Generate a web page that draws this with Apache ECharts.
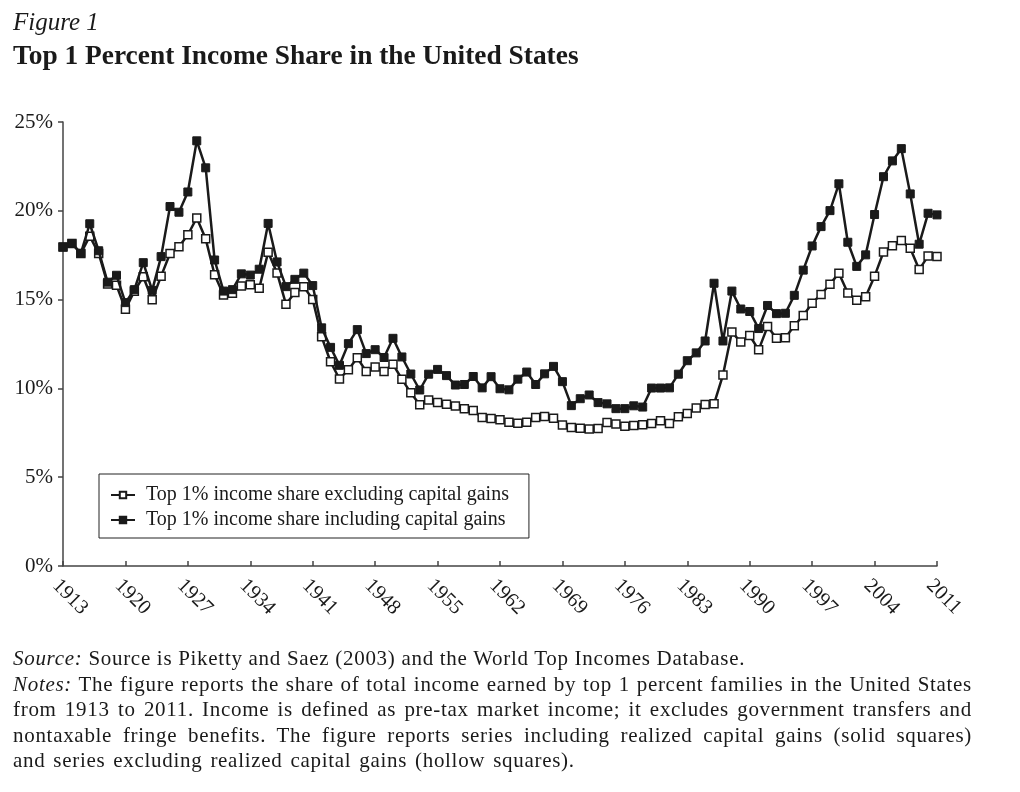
<!DOCTYPE html>
<html>
<head>
<meta charset="utf-8">
<script src="https://cdn.jsdelivr.net/npm/echarts@6/dist/echarts.min.js"></script>
<style>
  html, body { margin: 0; padding: 0; background: #fff; }
  #wrap { position: relative; width: 1020px; height: 792px; overflow: hidden; }
  #chart { position: absolute; left: 0; top: 0; width: 1020px; height: 792px; }
  .txt { position: absolute; font-family: "Liberation Serif", "Times New Roman", serif; color: #1a1a1a; white-space: nowrap; }
  #fig { left: 13px; top: 9px; font-size: 25px; line-height: 25px; font-style: italic; }
  #ttl { left: 13px; top: 42px; font-size: 27.4px; line-height: 27px; font-weight: bold; }
  #notes { left: 13px; top: 646px; width: 959px; font-size: 21px; line-height: 25.5px; letter-spacing: 0.7px; white-space: normal; }
  #notes div { white-space: nowrap; }
  #notes .j { text-align: justify; text-align-last: justify; white-space: normal; }
  #notes .last { word-spacing: 2px; }
  i { font-style: italic; }
</style>
</head>
<body>
<div id="wrap">
  <div id="chart"></div>
  <div class="txt" id="fig">Figure 1</div>
  <div class="txt" id="ttl">Top 1 Percent Income Share in the United States</div>
  <div class="txt" id="notes">
    <div><i>Source:</i> Source is Piketty and Saez (2003) and the World Top Incomes Database.</div>
    <div class="j"><i>Notes:</i> The figure reports the share of total income earned by top 1 percent families in the United States</div>
    <div class="j">from 1913 to 2011. Income is defined as pre-tax market income; it excludes government transfers and</div>
    <div class="j">nontaxable fringe benefits. The figure reports series including realized capital gains (solid squares)</div>
    <div class="last">and series excluding realized capital gains (hollow squares).</div>
  </div>
</div>
<script>
// Categories: years 1913..2011
var years = [];
for (var y = 1913; y <= 2011; y++) years.push(String(y));

// Tick labels shown on the x axis
var tickYears = ['1913','1920','1927','1934','1941','1948','1955','1962','1969','1976','1983','1990','1997','2004','2011'];

// Y tick labels (percent)
var yTicks = [0, 5, 10, 15, 20, 25];

// Top 1% income share excluding capital gains (%)
var exclKG = [
  17.96, 18.16, 17.60, 18.57, 17.60, 15.88, 15.81, 14.46, 15.47, 16.29,
  14.99, 16.32, 17.60, 17.97, 18.65, 19.60, 18.42, 16.40, 15.26, 15.36,
  15.76, 15.84, 15.64, 17.66, 16.50, 14.74, 15.40, 15.73, 15.01, 12.91,
  11.50, 10.53, 11.05, 11.72, 10.95, 11.21, 10.95, 11.36, 10.52, 9.75,
  9.08, 9.35, 9.20, 9.11, 9.01, 8.86, 8.75, 8.36, 8.31, 8.23,
  8.09, 8.04, 8.09, 8.36, 8.42, 8.32, 7.94, 7.80, 7.76, 7.72,
  7.74, 8.08, 8.00, 7.87, 7.91, 7.95, 8.03, 8.18, 8.03, 8.40,
  8.59, 8.89, 9.09, 9.13, 10.75, 13.17, 12.61, 12.98, 12.17, 13.48,
  12.82, 12.85, 13.53, 14.11, 14.80, 15.29, 15.87, 16.49, 15.37, 14.97,
  15.16, 16.32, 17.68, 18.03, 18.33, 17.89, 16.69, 17.45, 17.42
];

// Top 1% income share including capital gains (%)
var inclKG = [
  17.96, 18.16, 17.60, 19.27, 17.75, 15.98, 16.37, 14.83, 15.56, 17.08,
  15.52, 17.42, 20.24, 19.92, 21.06, 23.94, 22.42, 17.23, 15.48, 15.56,
  16.45, 16.38, 16.71, 19.29, 17.12, 15.73, 16.14, 16.49, 15.79, 13.41,
  12.31, 11.30, 12.52, 13.31, 11.96, 12.18, 11.74, 12.82, 11.77, 10.81,
  9.91, 10.80, 11.07, 10.72, 10.19, 10.22, 10.67, 10.03, 10.66, 9.98,
  9.92, 10.52, 10.92, 10.22, 10.82, 11.24, 10.38, 9.03, 9.42, 9.63,
  9.20, 9.13, 8.86, 8.86, 9.02, 8.95, 10.02, 10.02, 10.03, 10.80,
  11.56, 12.00, 12.67, 15.92, 12.67, 15.48, 14.47, 14.33, 13.37, 14.67,
  14.21, 14.23, 15.24, 16.66, 18.02, 19.11, 20.01, 21.52, 18.23, 16.87,
  17.52, 19.79, 21.92, 22.81, 23.50, 20.95, 18.12, 19.86, 19.77
];

var seriesNames = ['Top 1% income share excluding capital gains', 'Top 1% income share including capital gains'];

var FONT = '"Liberation Serif", "Times New Roman", serif';
var INK = '#1a1a1a';

var chart = echarts.init(document.getElementById('chart'), null, { renderer: 'canvas' });

function isTick(i) { return tickYears.indexOf(years[i]) >= 0; }

chart.setOption({
  backgroundColor: '#ffffff',
  animation: false,
  grid: { left: 63, right: 83, top: 122, bottom: 226, containLabel: false },
  legend: {
    orient: 'vertical',
    left: 99,
    top: 474,
    data: seriesNames,
    borderColor: '#222',
    borderWidth: 1,
    padding: [11, 20, 8, 11],
    itemGap: 5,
    itemWidth: 24,
    itemHeight: 8,
    textStyle: { fontFamily: FONT, fontSize: 20, color: INK, padding: [0, 0, 0, 6] }
  },
  xAxis: {
    type: 'category',
    data: years,
    boundaryGap: false,
    axisLine: { show: true, lineStyle: { color: '#444', width: 1.5 } },
    axisTick: { show: true, inside: true, length: 5, interval: function (i) { return isTick(i); }, lineStyle: { color: '#444', width: 1.5 } },
    axisLabel: {
      interval: function (i) { return isTick(i); },
      rotate: -45,
      margin: 9,
      verticalAlign: 'top',
      fontFamily: FONT,
      fontSize: 20.5,
      color: INK
    },
    splitLine: { show: false }
  },
  yAxis: {
    type: 'value',
    min: yTicks[0],
    max: yTicks[yTicks.length - 1],
    interval: 5,
    axisLine: { show: true, lineStyle: { color: '#444', width: 1.5 } },
    axisTick: { show: true, inside: false, length: 5, lineStyle: { color: '#444', width: 1.5 } },
    axisLabel: { formatter: '{value}%', margin: 10, fontFamily: FONT, fontSize: 21, color: INK },
    splitLine: { show: false }
  },
  series: [
    {
      name: seriesNames[0],
      type: 'line',
      data: exclKG,
      symbol: 'rect',
      symbolSize: 8,
      showAllSymbol: true,
      lineStyle: { color: INK, width: 2.5 },
      itemStyle: { color: '#ffffff', borderColor: INK, borderWidth: 1.5 },
      emphasis: { disabled: true },
      z: 2
    },
    {
      name: seriesNames[1],
      type: 'line',
      data: inclKG,
      symbol: 'rect',
      symbolSize: 8,
      showAllSymbol: true,
      lineStyle: { color: INK, width: 2.5 },
      itemStyle: { color: INK, borderColor: INK, borderWidth: 1 },
      emphasis: { disabled: true },
      z: 3
    }
  ]
});
</script>
</body>
</html>
